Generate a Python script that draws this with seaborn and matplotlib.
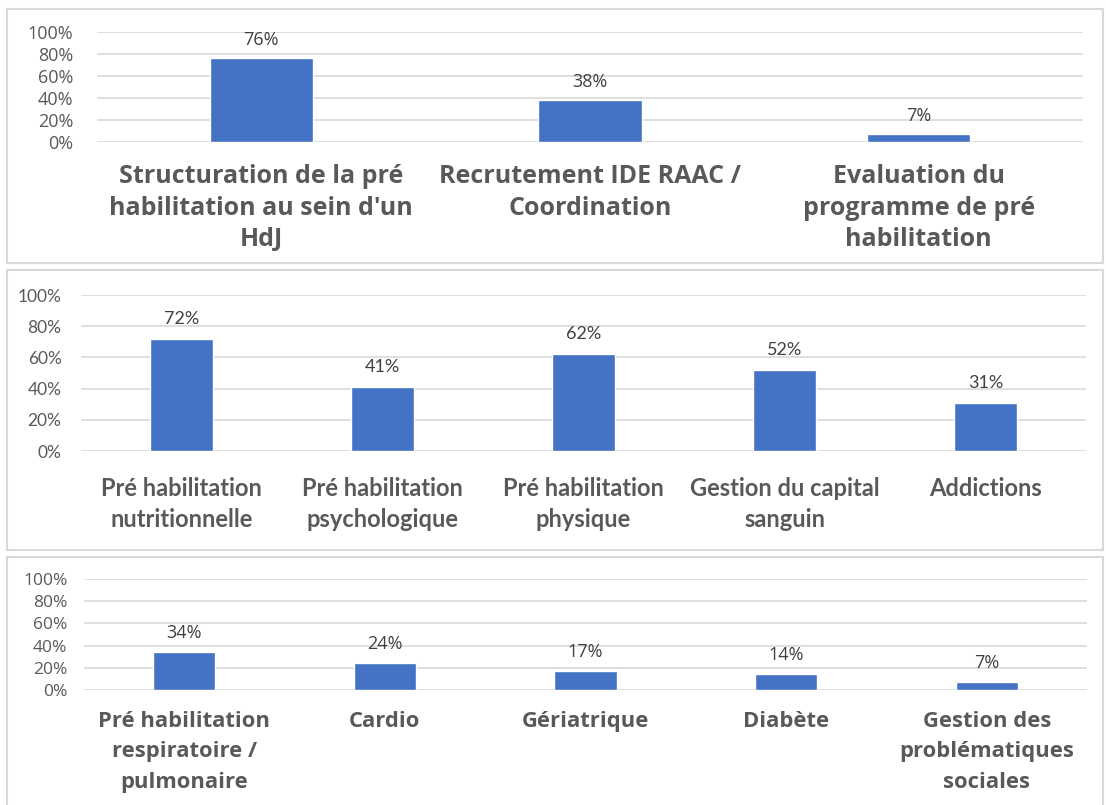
import matplotlib
matplotlib.use("Agg")
import matplotlib.pyplot as plt
import seaborn as sns
import pandas as pd
from matplotlib.patches import Rectangle
from matplotlib.ticker import PercentFormatter

sns.set_theme(style="white")

# ---- data ----
cats1 = ["Structuration de la pré\nhabilitation au sein d'un\nHdJ",
         "Recrutement IDE RAAC /\nCoordination",
         "Evaluation du\nprogramme de pré\nhabilitation"]
vals1 = [0.76, 0.38, 0.07]

cats2 = ["Pré habilitation\nnutritionnelle",
         "Pré habilitation\npsychologique",
         "Pré habilitation\nphysique",
         "Gestion du capital\nsanguin",
         "Addictions"]
vals2 = [0.72, 0.41, 0.62, 0.52, 0.31]

cats3 = ["Pré habilitation\nrespiratoire /\npulmonaire",
         "Cardio",
         "Gériatrique",
         "Diabète",
         "Gestion des\nproblématiques\nsociales"]
vals3 = [0.34, 0.24, 0.17, 0.14, 0.07]

yticks = [0, 0.2, 0.4, 0.6, 0.8, 1.0]

W, H = 1106, 805
fig = plt.figure(figsize=(W / 100, H / 100), dpi=100)
fig.patch.set_facecolor("white")

BAR = "#4472C4"
GRAY = "#595959"
GRID = "#D9D9D9"

def px_axes(x0, x1, ytop, ybot):
    return fig.add_axes([x0 / W, 1 - ybot / H, (x1 - x0) / W, (ybot - ytop) / H])

def border(x0, x1, ytop, ybot):
    fig.patches.append(Rectangle((x0 / W, 1 - ybot / H), (x1 - x0) / W, (ybot - ytop) / H,
                                 transform=fig.transFigure, fill=False,
                                 edgecolor=GRID, linewidth=1.5))

panels = [
    dict(cats=cats1, vals=vals1, box=(97, 1083, 32, 142), frame=(7, 1103, 9, 263),
         family="Open Sans", csize=18, tsize=13, vsize=13, width=0.315, pad=16, ls=1.34,
         voff=13, ypad=17),
    dict(cats=cats2, vals=vals2, box=(81, 1086, 295, 451), frame=(7, 1103, 270, 550),
         family="Lato", csize=17, tsize=12.5, vsize=13, width=0.31, pad=19, ls=1.4,
         voff=14.5, ypad=14),
    dict(cats=cats3, vals=vals3, box=(84, 1087, 579, 690), frame=(7, 1103, 557, 830),
         family="Open Sans", csize=15.8, tsize=12.5, vsize=13, width=0.31, pad=15, ls=1.6,
         voff=14, ypad=12),
]

for p in panels:
    border(*p["frame"])
    ax = px_axes(*p["box"])
    df = pd.DataFrame({"cat": p["cats"], "val": p["vals"]})
    sns.barplot(data=df, x="cat", y="val", color=BAR, saturation=1, width=p["width"], ax=ax)
    ax.set_ylim(0, 1)
    ax.set_yticks(yticks)
    ax.yaxis.set_major_formatter(PercentFormatter(1.0, decimals=0))
    ax.grid(axis="y", color=GRID, linewidth=1.2)
    ax.set_axisbelow(True)
    for s in ax.spines.values():
        s.set_visible(False)
    ax.set_xlabel("")
    ax.set_ylabel("")
    ax.tick_params(axis="both", length=0)
    ax.tick_params(axis="x", pad=p["pad"])
    ax.tick_params(axis="y", pad=p["ypad"])
    for lab in ax.get_xticklabels():
        lab.set_family(p["family"])
        lab.set_fontweight("bold")
        lab.set_fontsize(p["csize"])
        lab.set_color(GRAY)
        lab.set_linespacing(p["ls"])
    for lab in ax.get_yticklabels():
        lab.set_family(p["family"])
        lab.set_fontsize(p["tsize"])
        lab.set_color(GRAY)
    for i, v in enumerate(p["vals"]):
        ax.annotate(f"{round(v * 100)}%", (i, v), xytext=(0, p["voff"]),
                    textcoords="offset points", ha="center", va="center",
                    fontsize=p["vsize"], family=p["family"], color="#404040")

fig.savefig("out.png", dpi=100, facecolor="white")
